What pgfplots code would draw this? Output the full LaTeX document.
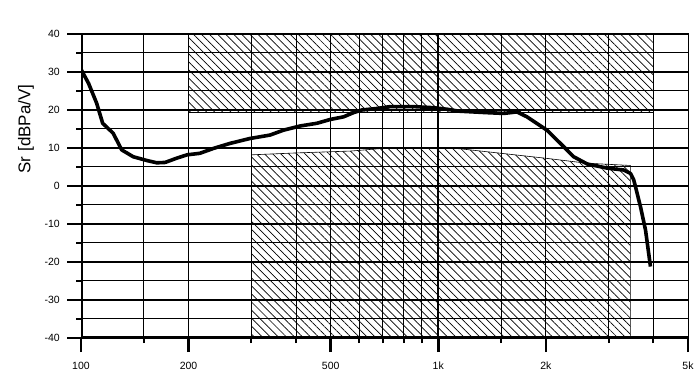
\documentclass[border=0pt]{standalone}
\usepackage{fontspec}
\setmainfont{Liberation Sans}
\usepackage{pgfplots}
\pgfplotsset{compat=1.18}
\usetikzlibrary{patterns.meta}
\begin{document}
\begin{tikzpicture}
\useasboundingbox (-81bp,-43bp) rectangle (616bp,338bp);
\begin{axis}[
  scale only axis, width=607bp, height=304bp,
  at={(0,0)}, anchor=south west,
  xmode=log, xmin=100, xmax=5000, ymin=-40, ymax=40,
  xtick={100,200,500,1000,2000,5000},
  xticklabels={100,200,500,1k,2k,5k},
  minor xtick={150,300,400,600,700,800,900,1500,3000,4000},
  ytick={-40,-30,-20,-10,0,10,20,30,40},
  yticklabels={-40,-30,-20,-10,0,10,20,30,40},
  minor ytick={-35,-25,-15,-5,5,15,25,35},
  tick pos=left, tick align=outside,
  major tick length=14bp, minor tick length=5bp,
  every major tick/.append style={line width=2.6bp, black},
  every minor tick/.append style={line width=2bp, black},
  axis line style={line width=1bp},
  yticklabel style={font=\fontsize{10.5bp}{12bp}\selectfont, anchor=east, inner sep=0pt, xshift=-7bp},
  xticklabel style={font=\fontsize{10.5bp}{12bp}\selectfont, anchor=north, inner sep=0pt, yshift=-10bp},
  clip=true,
]
% upper mask
\addplot[draw=black, line width=0.6bp, pattern={Lines[angle=-45,distance=5.7bp,line width=0.7bp]}] coordinates {
 (200,19.3) (4000,19.3) (4000,40) (200,40) (200,19.3)};
% lower mask
\addplot[draw=black, line width=0.6bp, pattern={Lines[angle=-45,distance=5.7bp,line width=0.7bp]}] coordinates {
 (300,-40) (300,8.2) (400,8.7) (570,9.2) (700,9.9) (850,10) (1000,10) (1150,9.8)
 (1500,8.6) (2000,7.3) (2600,6.0) (3450,5.4) (3450,-40) (300,-40)};
% grid
\pgfplotsinvokeforeach{-30,-20,-10,0,10,20,30}{\draw[line width=2bp] (axis cs:100,#1) -- (axis cs:5000,#1);}
\pgfplotsinvokeforeach{-35,-25,-15,-5,5,15,25,35}{\draw[line width=1bp] (axis cs:100,#1) -- (axis cs:5000,#1);}
\pgfplotsinvokeforeach{150,200,300,400,500,600,700,800,900,1500,2000,3000,4000}{\draw[line width=1bp] (axis cs:#1,-40) -- (axis cs:#1,40);}
\draw[line width=2bp] (axis cs:1000,-40) -- (axis cs:1000,40);
\draw[line width=3bp] (axis cs:100,-40) -- (axis cs:100,40);
\draw[line width=3bp] (axis cs:100,-40) -- (axis cs:5000,-40);
\draw[line width=2bp] (axis cs:100,40) -- (axis cs:5000,40);
% response
\addplot[black, line width=3.6bp, line join=round, mark=none] coordinates {
 (100,30.7) (105,27.0) (110.6,21.8) (115,16.5) (123,13.9) (130,9.5) (140,7.7)
 (153,6.7) (163,6.1) (172,6.2) (185,7.3) (198,8.2) (215,8.6) (235,9.9) (261,11.2)
 (297,12.5) (338,13.4) (369,14.7) (411,15.8) (457,16.5) (498,17.5) (543,18.2)
 (579,19.3) (611,20.0) (673,20.4) (734,20.9) (853,20.9) (970,20.6) (1058,20.2)
 (1140,19.7) (1368,19.3) (1524,19.1) (1661,19.5) (1771,18.2) (2014,14.7)
 (2197,11.2) (2393,7.7) (2610,5.8) (2970,4.7) (3305,4.2) (3452,3.3) (3524,1.6)
 (3565,-0.2) (3641,-3.7) (3680,-5.4) (3803,-11.6) (3926,-21.2)};
\end{axis}
\node[rotate=90, inner sep=0pt, font=\fontsize{17bp}{20bp}\selectfont] at (-55bp,209bp) {Sr [dBPa/V]};
\end{tikzpicture}
\end{document}
